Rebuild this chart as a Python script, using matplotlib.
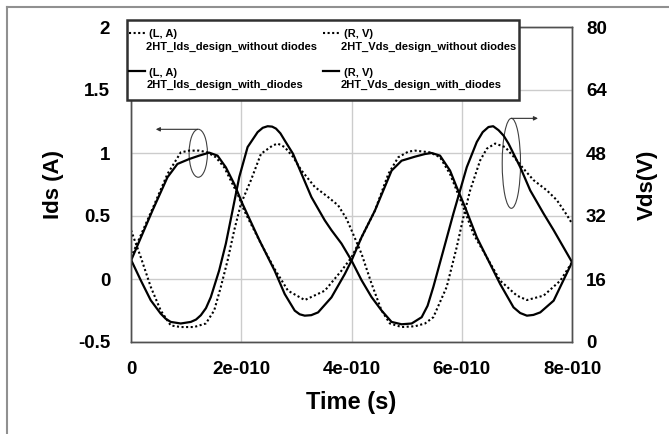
import matplotlib
matplotlib.use("Agg")
import matplotlib.pyplot as plt
import numpy as np
from matplotlib.patches import Ellipse, Rectangle
from matplotlib.lines import Line2D
from matplotlib.legend_handler import HandlerLine2D

plt.rcParams['font.family'] = ['Liberation Sans', 'DejaVu Sans']
plt.rcParams['font.weight'] = 'bold'

# ---- data (time in units of 1e-10 s) ----
t_ids_with = [0, 0.388, 0.661, 0.842, 1.055, 1.236, 1.418, 1.570, 1.721, 1.873, 2.024, 2.333, 2.606,
              2.788, 2.970, 3.06, 3.152, 3.27, 3.394, 3.636, 3.879, 4.0, 4.182, 4.424, 4.727, 4.909, 5.152, 5.333,
              5.455, 5.606, 5.788, 5.909, 6.061, 6.273, 6.515, 6.697, 6.939, 7.06, 7.182, 7.30, 7.424, 7.667, 8.0]
ids_with = [0.146, 0.542, 0.807, 0.913, 0.952, 0.979, 1.003, 0.979, 0.886, 0.754, 0.595, 0.304, 0.066,
            -0.119, -0.251, -0.280, -0.291, -0.287, -0.265, -0.146, 0.040, 0.146, 0.331, 0.542, 0.860, 0.939, 0.971, 0.992,
            1.000, 0.979, 0.860, 0.728, 0.569, 0.331, 0.119, -0.040, -0.225, -0.270, -0.291, -0.285, -0.265, -0.172, 0.132]

t_ids_without = [0, 0.388, 0.661, 0.903, 1.055, 1.236, 1.388, 1.539, 1.691, 1.812, 1.933, 2.055, 2.145,
                 2.394, 2.606, 2.848, 3.152, 3.515, 3.818, 4.0, 4.182, 4.424, 4.667, 4.848, 5.030, 5.152,
                 5.424, 5.606, 5.788, 5.909, 6.030, 6.212, 6.455, 6.697, 7.0, 7.182, 7.485, 7.788, 8.0]
ids_without = [0.172, 0.556, 0.833, 1.005, 1.019, 1.019, 1.005, 0.966, 0.886, 0.780, 0.675, 0.542, 0.463,
               0.251, 0.079, -0.093, -0.167, -0.093, 0.066, 0.172, 0.331, 0.542, 0.833, 0.966, 1.011, 1.019,
               1.005, 0.966, 0.833, 0.701, 0.569, 0.357, 0.172, -0.013, -0.132, -0.167, -0.132, -0.013, 0.132]

t_vds_with = [0, 0.176, 0.358, 0.539, 0.63, 0.721, 0.903, 1.085, 1.18, 1.267, 1.36, 1.448, 1.6, 1.721, 1.812,
              1.964, 2.115, 2.297, 2.39, 2.479, 2.56, 2.630, 2.71, 2.788, 2.939, 3.091, 3.273, 3.515, 3.636,
              3.818, 4.0, 4.182, 4.364, 4.545, 4.727, 4.909, 5.091, 5.273, 5.38, 5.485, 5.667, 5.848, 5.970,
              6.091, 6.273, 6.38, 6.485, 6.57, 6.667, 6.76, 6.848, 7.061, 7.242, 7.485, 7.667, 8.0]
vds_with = [20.9, 15.7, 10.6, 7.2, 5.9, 5.1, 4.7, 5.1, 5.7, 6.8, 8.6, 11.4, 18.2, 25.0, 31.3,
            41.9, 49.5, 53.3, 54.4, 54.8, 54.7, 54.2, 53.0, 51.2, 47.8, 42.8, 36.8, 30.9, 28.4,
            25.0, 20.7, 15.7, 11.4, 8.0, 5.1, 4.5, 4.7, 6.3, 9.2, 14.0, 23.3, 32.6, 38.5,
            44.4, 50.8, 53.3, 54.6, 54.8, 53.8, 52.4, 50.4, 44.4, 38.5, 32.6, 28.4, 20.3]

t_vds_without = [0, 0.176, 0.358, 0.539, 0.721, 0.903, 1.145, 1.358, 1.509, 1.630, 1.752, 1.873, 1.994,
                 2.176, 2.358, 2.570, 2.661, 2.788, 2.939, 3.091, 3.333, 3.576, 3.758, 3.909, 4.0, 4.182,
                 4.364, 4.545, 4.697, 4.909, 5.152, 5.333, 5.485, 5.727, 5.909, 6.030, 6.152, 6.333,
                 6.455, 6.606, 6.788, 6.970, 7.121, 7.303, 7.545, 7.727, 7.909, 8.0]
vds_without = [28.4, 21.6, 14.0, 8.0, 4.2, 3.8, 3.8, 4.7, 8.0, 14.0, 20.7, 28.4, 35.1,
               41.1, 47.8, 49.9, 50.4, 49.5, 47.0, 43.6, 39.4, 36.8, 34.7, 31.3, 28.4, 22.4,
               14.8, 8.0, 4.7, 3.8, 4.0, 4.7, 6.3, 14.0, 24.1, 31.7, 38.5, 46.1,
               49.1, 50.4, 49.5, 46.6, 44.0, 41.1, 38.5, 36.0, 32.2, 30.1]

x_ticks = [0, 2e-10, 4e-10, 6e-10, 8e-10]
x_ticklabels = ['0', '2e-010', '4e-010', '6e-010', '8e-010']
left_ticks = [-0.5, 0, 0.5, 1, 1.5, 2]
left_ticklabels = ['-0.5', '0', '0.5', '1', '1.5', '2']
right_ticks = [0, 16, 32, 48, 64, 80]

label_ids_without = ' (L, A)\n2HT_Ids_design_without diodes'
label_vds_without = ' (R, V)\n2HT_Vds_design_without diodes'
label_ids_with = ' (L, A)\n2HT_Ids_design_with_diodes'
label_vds_with = ' (R, V)\n2HT_Vds_design_with_diodes'

scale = 1e-10
W, H = 669, 434
fig = plt.figure(figsize=(W / 100, H / 100), dpi=100)
ax = fig.add_axes([131 / W, 1 - 342 / H, (572 - 131) / W, (342 - 27) / H])
ax2 = ax.twinx()

dot = (0, (1, 1.2))
l1, = ax.plot(np.array(t_ids_without) * scale, ids_without, color='black', lw=1.5, ls=dot)
l3, = ax.plot(np.array(t_ids_with) * scale, ids_with, color='black', lw=1.6)
l2, = ax2.plot(np.array(t_vds_without) * scale, vds_without, color='black', lw=1.5, ls=dot)
l4, = ax2.plot(np.array(t_vds_with) * scale, vds_with, color='black', lw=1.6)

ax.set_xlim(0, 8e-10)
ax.set_ylim(-0.5, 2)
ax2.set_ylim(0, 80)
ax.set_xticks(x_ticks)
ax.set_xticklabels(x_ticklabels)
ax.set_yticks(left_ticks)
ax.set_yticklabels(left_ticklabels)
ax2.set_yticks(right_ticks)
ax.grid(True, color='#cccccc', lw=1)
ax.set_axisbelow(True)

ax.tick_params(axis='both', length=0, labelsize=13.5)
ax.tick_params(axis='y', pad=15)
ax.tick_params(axis='x', pad=14)
ax2.tick_params(axis='y', length=0, labelsize=13.5, pad=10)
for a in (ax, ax2):
    for s in a.spines.values():
        s.set_color('#505050')
        s.set_linewidth(1)

ax.set_xlabel('Time (s)', fontsize=17, fontweight='bold', labelpad=9)
ax.set_ylabel('Ids (A)', fontsize=16, fontweight='bold', labelpad=10)
ax2.set_ylabel('Vds(V)', fontsize=16, fontweight='bold', labelpad=22)

# annotation ellipses and arrows
ax.add_patch(Ellipse((1.22e-10, 0.998), 0.332e-10, 0.381, fill=False, ec='#404040', lw=0.8))
ax.add_patch(Ellipse((6.90e-10, 0.918), 0.332e-10, 0.714, fill=False, ec='#404040', lw=0.8))
ax.annotate('', xy=(0.45e-10, 1.188), xytext=(1.207e-10, 1.188),
            arrowprops=dict(arrowstyle='-|>', lw=0.8, color='#303030', mutation_scale=6, shrinkA=0, shrinkB=0))
ax.annotate('', xy=(7.383e-10, 1.275), xytext=(6.90e-10, 1.275),
            arrowprops=dict(arrowstyle='-|>', lw=0.8, color='#303030', mutation_scale=6, shrinkA=0, shrinkB=0))


class TopHandler(HandlerLine2D):
    def create_artists(self, legend, orig_handle, xdescent, ydescent, width, height, fontsize, trans):
        arts = super().create_artists(legend, orig_handle, xdescent, ydescent, width, height, fontsize, trans)
        for a in arts:
            if isinstance(a, Line2D):
                y = a.get_ydata()
                a.set_ydata(np.asarray(y) + 0.68 * fontsize)
        return arts


# legend frame box
fig.add_artist(Rectangle((127 / W, 1 - 100 / H), (519 - 127) / W, 80 / H, transform=fig.transFigure,
                         facecolor='white', edgecolor='#303030', lw=1.8, zorder=1))

# column-major order so rows read: without diodes / with diodes
leg = fig.legend([l1, l3, l2, l4], [label_ids_without, label_ids_with, label_vds_without, label_vds_with],
                 ncol=2, loc='upper left',
                 bbox_to_anchor=(129 / W, 1 - 29 / H), frameon=False,
                 prop={'size': 8.05, 'weight': 'bold'}, handlelength=1.4, handletextpad=0.15,
                 columnspacing=0.55, labelspacing=1.45, borderpad=0, borderaxespad=0,
                 handler_map={Line2D: TopHandler()})
leg.set_zorder(5)
for txt in leg.get_texts():
    txt.set_linespacing(1.3)

# outer frame (left and top)
fig.add_artist(Line2D([7 / W, 7 / W], [0, 1 - 7 / H], color='#909090', lw=1.5))
fig.add_artist(Line2D([7 / W, 1], [1 - 7 / H, 1 - 7 / H], color='#909090', lw=1.5))

fig.savefig('out.png', dpi=100)
